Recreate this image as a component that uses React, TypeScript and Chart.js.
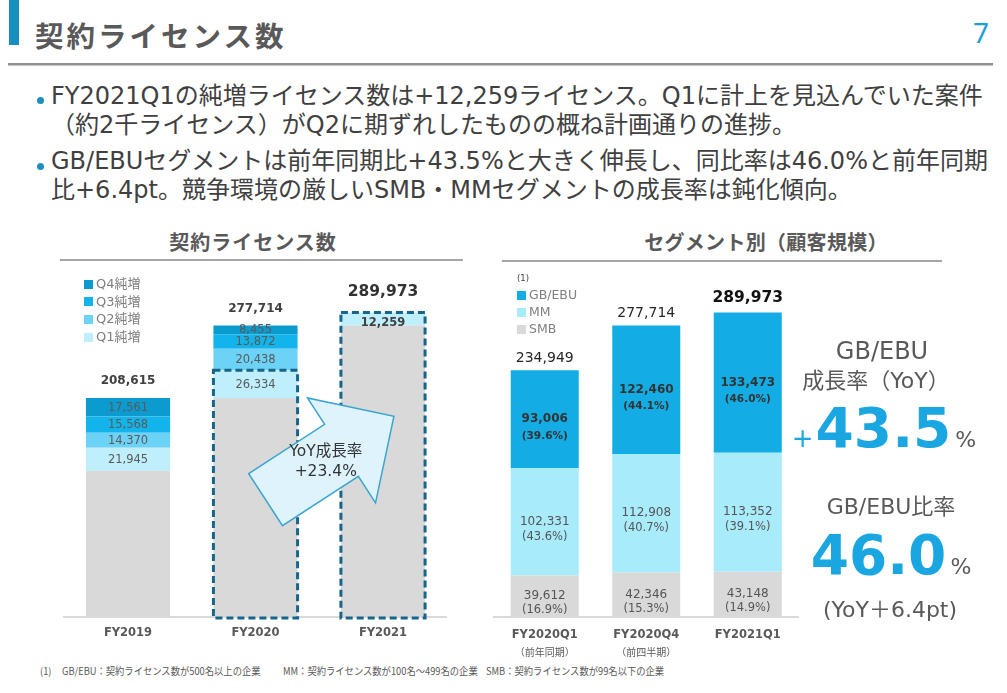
import React, { useEffect, useRef } from 'react';
import { Chart, registerables } from 'chart.js';

Chart.register(...registerables);

// ---------- data ----------
const yearLabels = ['FY2019', 'FY2020', 'FY2021'];
const yearBase = [139171, 208615, 277714];
const yearQ1 = [21945, 26334, 12259];
const yearQ2 = [14370, 20438, null];
const yearQ3 = [15568, 13872, null];
const yearQ4 = [17561, 8455, null];
const yearTotals = [208615, 277714, 289973];
const quarterLegend = ['Q4純増', 'Q3純増', 'Q2純増', 'Q1純増'];
const highlightYears = [1, 2];
const arrowText = ['YoY成長率', '+23.4%'];

const segCategories = ['FY2020Q1', 'FY2020Q4', 'FY2021Q1'];
const segSubLabels = ['（前年同期）', '（前四半期）', ''];
const smbValues = [39612, 42346, 43148];
const mmValues = [102331, 112908, 113352];
const gbValues = [93006, 122460, 133473];
const smbShare = ['16.9%', '15.3%', '14.9%'];
const mmShare = ['43.6%', '40.7%', '39.1%'];
const gbShare = ['39.6%', '44.1%', '46.0%'];
const segTotals = [234949, 277714, 289973];
const segLegend = ['GB/EBU', 'MM', 'SMB'];

const yMax = 340000;

// ---------- styles ----------
const C = {
  base: '#d9d9d9',
  q1: '#bfeefc',
  q2: '#6cd3f7',
  q3: '#12b4eb',
  q4: '#0c9bcf',
  gb: '#14ace4',
  mm: '#a8ebfb',
  smb: '#d9d9d9',
  blue: '#1aa6e0',
  text: '#404040',
  gray: '#595959',
};
const LAT = "'DejaVu Sans', 'Noto Sans CJK JP', sans-serif";
const CJK = "'Noto Sans CJK JP', sans-serif";

const fmt = (v: number) => v.toLocaleString('en-US');

// ---------- plugins ----------
const leftPlugin = {
  id: 'leftLabels',
  afterDatasetsDraw(chart: any) {
    const { ctx } = chart;
    const x = chart.scales.x;
    const y = chart.scales.y;
    const n = chart.data.labels.length;
    ctx.save();
    ctx.textAlign = 'center';
    ctx.textBaseline = 'middle';
    for (let di = 1; di < chart.data.datasets.length; di++) {
      const meta = chart.getDatasetMeta(di);
      meta.data.forEach((el: any, j: number) => {
        const v = chart.data.datasets[di].data[j];
        if (v == null) return;
        const p = el.getProps(['x', 'y', 'base'], true);
        const last = j === n - 1;
        ctx.font = `${last ? 'bold ' : ''}11.5px 'DejaVu Sans'`;
        ctx.fillStyle = last ? '#404040' : '#5a5a5a';
        ctx.fillText(fmt(v), p.x, (p.y + p.base) / 2 + (last ? 4.5 : 0.5));
      });
    }
    // dashed highlight boxes
    const q1Meta = chart.getDatasetMeta(1);
    ctx.strokeStyle = '#17658b';
    ctx.lineWidth = 3;
    ctx.setLineDash([7, 4]);
    highlightYears.forEach((j) => {
      const p = q1Meta.data[j].getProps(['x', 'y', 'width'], true);
      const x0 = p.x - p.width / 2;
      const bottom = y.getPixelForValue(0) + 1;
      ctx.strokeRect(x0, p.y, p.width, bottom - p.y);
    });
    ctx.setLineDash([]);
    // totals
    yearTotals.forEach((t, j) => {
      const last = j === n - 1;
      ctx.font = last ? "bold 15.5px 'DejaVu Sans'" : "bold 12px 'DejaVu Sans'";
      ctx.fillStyle = last ? '#333333' : '#404040';
      ctx.fillText(fmt(t), x.getPixelForValue(j), y.getPixelForValue(t) - (last ? 20.5 : 17));
    });
    // arrow
    const ax = (x.getPixelForValue(1) + x.getPixelForValue(2)) / 2 + 10.5;
    const ay = y.getPixelForValue(0) - 159;
    ctx.save();
    ctx.translate(ax, ay);
    ctx.rotate((-33 * Math.PI) / 180);
    ctx.beginPath();
    ctx.moveTo(-76.5, -31);
    ctx.lineTo(14, -31);
    ctx.lineTo(14, -62.5);
    ctx.lineTo(76.5, 0);
    ctx.lineTo(14, 62.5);
    ctx.lineTo(14, 31);
    ctx.lineTo(-76.5, 31);
    ctx.closePath();
    ctx.fillStyle = '#def3fc';
    ctx.fill();
    ctx.strokeStyle = '#3aa5d1';
    ctx.lineWidth = 1.5;
    ctx.stroke();
    ctx.restore();
    ctx.font = "15.5px 'DejaVu Sans', 'Noto Sans CJK JP'";
    ctx.fillStyle = '#333333';
    ctx.fillText(arrowText[0], ax - 4, ay - 6.5);
    ctx.fillText(arrowText[1], ax - 4, ay + 13.5);
    ctx.restore();
  },
};

const rightPlugin = {
  id: 'rightLabels',
  afterDatasetsDraw(chart: any) {
    const { ctx } = chart;
    const x = chart.scales.x;
    const y = chart.scales.y;
    const n = chart.data.labels.length;
    const shares = [smbShare, mmShare, gbShare];
    const gaps = [14, 15, 17];
    ctx.save();
    ctx.textAlign = 'center';
    ctx.textBaseline = 'middle';
    chart.data.datasets.forEach((ds: any, di: number) => {
      const meta = chart.getDatasetMeta(di);
      const isGb = di === 2;
      meta.data.forEach((el: any, j: number) => {
        const p = el.getProps(['x', 'y', 'base'], true);
        const cy = (p.y + p.base) / 2;
        ctx.fillStyle = isGb ? '#333333' : '#555555';
        ctx.font = isGb ? "bold 12px 'DejaVu Sans'" : "12px 'DejaVu Sans'";
        ctx.fillText(fmt(ds.data[j]), p.x, cy);
        ctx.font = isGb ? "bold 10.5px 'DejaVu Sans'" : "11.5px 'DejaVu Sans'";
        ctx.fillText(`(${shares[di][j]})`, p.x, cy + gaps[di]);
      });
    });
    segTotals.forEach((t, j) => {
      const last = j === n - 1;
      ctx.font = last ? "bold 15.5px 'DejaVu Sans'" : "14px 'DejaVu Sans'";
      ctx.fillStyle = last ? '#111111' : '#262626';
      ctx.fillText(fmt(t), x.getPixelForValue(j), y.getPixelForValue(t) - (last ? 15 : 12));
    });
    ctx.font = "10px 'Noto Sans CJK JP'";
    ctx.fillStyle = C.gray;
    segSubLabels.forEach((s, j) => {
      if (s) ctx.fillText(s, x.getPixelForValue(j), y.getPixelForValue(0) + 35);
    });
    ctx.restore();
  },
};

const xScale = (padding: number) => ({
  stacked: true,
  grid: { display: false, drawTicks: false },
  border: { display: true, color: '#d9d9d9', width: 2 },
  ticks: { color: C.gray, font: { family: 'DejaVu Sans', size: 11.5, weight: 'bold' }, padding },
  afterFit: (s: any) => {
    s.height = 30;
  },
});

const baseOptions = (pad: any, tickPad: number) => ({
  responsive: false,
  animation: false,
  devicePixelRatio: 1,
  layout: { padding: pad },
  plugins: { legend: { display: false }, tooltip: { enabled: false } },
  scales: {
    x: xScale(tickPad),
    y: { stacked: true, display: false, min: 0, max: yMax },
  },
});

const leftConfig = () => ({
  type: 'bar',
  data: {
    labels: yearLabels,
    datasets: [
      { label: 'base', data: yearBase, backgroundColor: C.base },
      { label: quarterLegend[3], data: yearQ1, backgroundColor: C.q1 },
      { label: quarterLegend[2], data: yearQ2, backgroundColor: C.q2 },
      { label: quarterLegend[1], data: yearQ3, backgroundColor: C.q3 },
      { label: quarterLegend[0], data: yearQ4, backgroundColor: C.q4 },
    ].map((d) => ({ ...d, barPercentage: 0.66, categoryPercentage: 1, borderWidth: 0 })),
  },
  options: baseOptions({ left: 24.25, right: 23.25, top: 10, bottom: 13 }, 9),
  plugins: [leftPlugin],
});

const rightConfig = () => ({
  type: 'bar',
  data: {
    labels: segCategories,
    datasets: [
      { label: segLegend[2], data: smbValues, backgroundColor: C.smb },
      { label: segLegend[1], data: mmValues, backgroundColor: C.mm },
      { label: segLegend[0], data: gbValues, backgroundColor: C.gb },
    ].map((d) => ({ ...d, barPercentage: 0.67, categoryPercentage: 1, borderWidth: 0 })),
  },
  options: baseOptions({ left: 14, right: 11.5, top: 10, bottom: 13 }, 11),
  plugins: [rightPlugin],
});

function ChartCanvas(props: { left: number; top: number; width: number; height: number; make: () => any }) {
  const ref = useRef<HTMLCanvasElement>(null);
  useEffect(() => {
    const chart = new Chart(ref.current as HTMLCanvasElement, props.make());
    return () => chart.destroy();
  }, []);
  return (
    <canvas
      ref={ref}
      width={props.width}
      height={props.height}
      style={{ position: 'absolute', left: props.left, top: props.top, width: props.width, height: props.height }}
    />
  );
}

function Abs(props: { x: number; y: number; w?: number; lh: number; style?: any; children: any }) {
  const w = props.w;
  return (
    <div
      style={{
        position: 'absolute',
        left: w ? props.x - w / 2 : props.x,
        top: props.y - props.lh / 2,
        width: w,
        textAlign: w ? 'center' : 'left',
        lineHeight: `${props.lh}px`,
        whiteSpace: 'nowrap',
        ...props.style,
      }}
    >
      {props.children}
    </div>
  );
}

const footStyle = {
  fontFamily: CJK,
  fontSize: 10,
  color: C.gray,
  transform: 'scaleX(0.93)',
  transformOrigin: '0 50%',
};

export default function App() {
  useEffect(() => {
    document.body.style.margin = '0';
  }, []);
  const leftLegendColors = [C.q4, C.q3, C.q2, C.q1];
  const segLegendColors = [C.gb, C.mm, C.smb];
  return (
    <div
      style={{
        position: 'absolute',
        left: 0,
        top: 0,
        width: 1007,
        height: 693,
        overflow: 'hidden',
        background: '#ffffff',
        fontFamily: LAT,
        color: C.text,
      }}
    >
      {/* header */}
      <div style={{ position: 'absolute', left: 9, top: 0, width: 10, height: 45, background: '#168fbf' }} />
      <Abs x={35} y={35} lh={40} style={{ fontFamily: CJK, fontWeight: 'bold', fontSize: 28.5, letterSpacing: 3, color: C.gray }}>
        契約ライセンス数
      </Abs>
      <Abs x={981} y={32} w={40} lh={36} style={{ fontFamily: "'Noto Sans', sans-serif", fontSize: 28, color: '#1d9fd8' }}>
        7
      </Abs>
      <div style={{ position: 'absolute', left: 8, top: 63, width: 985, height: 2, background: '#8f8f8f' }} />
      <div style={{ position: 'absolute', left: 8, top: 65, width: 985, height: 1, background: '#c8c8c8' }} />

      {/* bullets */}
      <div style={{ position: 'absolute', left: 37, top: 97, width: 7, height: 7, borderRadius: 4, background: '#1a8fc0' }} />
      <div style={{ position: 'absolute', left: 37, top: 163, width: 7, height: 7, borderRadius: 4, background: '#1a8fc0' }} />
      <div style={{ position: 'absolute', left: 51, top: 81.5, fontSize: 24, lineHeight: '29px', whiteSpace: 'nowrap' }}>
        FY2021Q1の純増ライセンス数は+12,259ライセンス。Q1に計上を見込んでいた案件
        <br />
        （約2千ライセンス）がQ2に期ずれしたものの概ね計画通りの進捗。
      </div>
      <div style={{ position: 'absolute', left: 51, top: 146.5, fontSize: 24, lineHeight: '29px', whiteSpace: 'nowrap' }}>
        GB/EBUセグメントは前年同期比+43.5%と大きく伸長し、同比率は46.0%と前年同期
        <br />
        比+6.4pt。競争環境の厳しいSMB・MMセグメントの成長率は鈍化傾向。
      </div>

      {/* chart headings */}
      <Abs x={253} y={242} w={300} lh={26} style={{ fontFamily: CJK, fontWeight: 'bold', fontSize: 20, letterSpacing: 1, color: C.gray }}>
        契約ライセンス数
      </Abs>
      <div style={{ position: 'absolute', left: 60, top: 259, width: 403, height: 2, background: '#a6a6a6' }} />
      <Abs x={766} y={242} w={320} lh={26} style={{ fontFamily: CJK, fontWeight: 'bold', fontSize: 20, letterSpacing: 0.3, color: C.gray }}>
        セグメント別（顧客規模）
      </Abs>
      <div style={{ position: 'absolute', left: 502, top: 260, width: 440, height: 2, background: '#a6a6a6' }} />

      {/* charts */}
      <ChartCanvas left={40} top={250} width={430} height={410} make={leftConfig} />
      <ChartCanvas left={480} top={250} width={330} height={410} make={rightConfig} />

      {/* left legend */}
      {quarterLegend.map((q, i) => (
        <div key={q} style={{ position: 'absolute', left: 84, top: 284 + i * 17.7 - 9, height: 18, display: 'flex', alignItems: 'center' }}>
          <div style={{ width: 9, height: 9, background: leftLegendColors[i], marginRight: 3 }} />
          <span style={{ fontSize: 13, color: '#7f7f7f', lineHeight: '18px' }}>{q}</span>
        </div>
      ))}

      {/* right legend */}
      <Abs x={517} y={278} lh={12} style={{ fontSize: 8.5, color: '#404040' }}>
        (1)
      </Abs>
      {segLegend.map((s, i) => (
        <div key={s} style={{ position: 'absolute', left: 517, top: 295 + i * 17.2 - 9, height: 18, display: 'flex', alignItems: 'center' }}>
          <div style={{ width: 9, height: 9, background: segLegendColors[i], marginRight: 3 }} />
          <span style={{ fontSize: 12.5, color: '#7f7f7f', lineHeight: '18px' }}>{s}</span>
        </div>
      ))}

      {/* right stats */}
      <Abs x={882} y={351} w={220} lh={30} style={{ fontSize: 24, color: C.gray }}>
        GB/EBU
      </Abs>
      <Abs x={876} y={381} w={220} lh={30} style={{ fontSize: 22, color: C.gray }}>
        成長率（YoY）
      </Abs>
      <div
        style={{
          position: 'absolute',
          left: 734,
          top: 447 - 46.5,
          width: 300,
          textAlign: 'center',
          fontSize: 55,
          lineHeight: '55px',
          fontWeight: 'bold',
          color: C.blue,
          whiteSpace: 'nowrap',
        }}
      >
        <span style={{ fontSize: 26, fontWeight: 'normal', marginRight: 2 }}>+</span>
        43.5
        <span style={{ fontSize: 22, fontWeight: 'normal', color: C.gray, marginLeft: 4 }}>%</span>
      </div>
      <Abs x={891} y={507} w={240} lh={30} style={{ fontSize: 22, color: C.gray }}>
        GB/EBU比率
      </Abs>
      <div
        style={{
          position: 'absolute',
          left: 741,
          top: 574 - 46.5,
          width: 300,
          textAlign: 'center',
          fontSize: 55,
          lineHeight: '55px',
          fontWeight: 'bold',
          color: C.blue,
          whiteSpace: 'nowrap',
        }}
      >
        46.0
        <span style={{ fontSize: 22, fontWeight: 'normal', color: C.gray, marginLeft: 4 }}>%</span>
      </div>
      <Abs x={890} y={610} w={240} lh={30} style={{ fontSize: 22, color: C.gray }}>
        (YoY＋6.4pt)
      </Abs>

      {/* footnote */}
      <Abs x={40} y={671} lh={14} style={footStyle}>
        (1)
      </Abs>
      <Abs x={62} y={671} lh={14} style={footStyle}>
        GB/EBU：契約ライセンス数が500名以上の企業
      </Abs>
      <Abs x={283} y={671} lh={14} style={footStyle}>
        MM：契約ライセンス数が100名～499名の企業
      </Abs>
      <Abs x={486} y={671} lh={14} style={footStyle}>
        SMB：契約ライセンス数が99名以下の企業
      </Abs>
    </div>
  );
}
